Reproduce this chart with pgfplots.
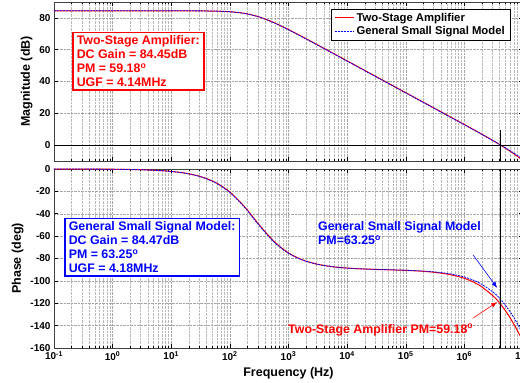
\documentclass[border=0pt]{standalone}
\usepackage{fontspec}
\setmainfont{Liberation Sans}
\usepackage{pgfplots}
\pgfplotsset{compat=1.18}
\usepackage{pgfplotstable}
\usetikzlibrary{arrows.meta}

\pgfplotstableread{
f magR magB phR phB
0.1 84.45 84.47 -0.02 -0.02
0.1778 84.45 84.47 -0.04 -0.04
0.3162 84.45 84.47 -0.07 -0.07
0.5623 84.45 84.47 -0.12 -0.12
1 84.45 84.47 -0.21 -0.22
1.778 84.45 84.47 -0.38 -0.39
3.162 84.45 84.47 -0.68 -0.69
5.623 84.45 84.47 -1.21 -1.23
10 84.44 84.46 -2.15 -2.19
17.78 84.43 84.45 -3.82 -3.90
31.62 84.39 84.41 -6.76 -6.90
56.23 84.26 84.27 -11.91 -12.15
100 83.88 83.88 -20.56 -20.94
177.8 82.85 82.82 -33.70 -34.24
316.2 80.64 80.55 -49.86 -50.44
562.3 77.09 76.96 -64.63 -65.08
1000 72.67 72.53 -75.07 -75.36
1778 67.87 67.72 -81.47 -81.64
3162 62.94 62.78 -85.18 -85.28
5623 57.96 57.81 -87.33 -87.38
10000 52.97 52.81 -88.55 -88.57
17783 47.97 47.81 -89.28 -89.28
31623 42.97 42.81 -89.77 -89.74
56234 37.97 37.81 -90.17 -90.10
100000 32.97 32.81 -90.63 -90.51
177828 27.97 27.81 -91.29 -91.09
316228 22.96 22.81 -92.41 -92.03
562341 17.95 17.80 -94.34 -93.67
1000000 12.93 12.79 -97.73 -96.55
1778279 7.84 7.74 -103.69 -101.63
3162278 2.59 2.58 -113.94 -110.47
4216965 -0.19 -0.09 -121.33 -116.97
5623413 -3.12 -2.87 -130.53 -125.25
7498942 -6.28 -5.81 -141.54 -135.48
10000000 -9.68 -8.95 -154.07 -147.61
}\bode

\pgfplotsset{
  every axis/.append style={
    scale only axis, width=469pt,
    xmin=0.1, xmax=1e7,
    xtick={0.1,1,10,100,1000,10000,100000,1000000,10000000},
    minor xtick={0.2,0.3,0.4,0.5,0.6,0.7,0.8,0.9,
      2,3,4,5,6,7,8,9,20,30,40,50,60,70,80,90,
      200,300,400,500,600,700,800,900,
      2000,3000,4000,5000,6000,7000,8000,9000,
      20000,30000,40000,50000,60000,70000,80000,90000,
      200000,300000,400000,500000,600000,700000,800000,900000,
      2000000,3000000,4000000,5000000,6000000,7000000,8000000,9000000},
    grid=both,
    major grid style={densely dotted, gray!70, line width=0.45pt},
    minor grid style={densely dotted, gray!55, line width=0.45pt},
    axis line style={black!75, line width=0.7pt},
    tick style={black, line width=0.5pt},
    major tick length=4pt, minor tick length=2pt,
    ticklabel style={font=\fontsize{10}{12}\selectfont\bfseries},
    label style={font=\fontsize{12.5}{14}\selectfont\bfseries},
    /pgf/number format/assume math mode=true,
  },
}

\begin{document}
\begin{tikzpicture}[x=1pt,y=1pt]
\begin{semilogxaxis}[at={(54pt,222pt)}, anchor=south west, height=159pt,
  ymin=-10, ymax=90, ytick={0,20,40,60,80}, xticklabels={},
  ylabel={Magnitude (dB)},
  legend style={at={(0.59,0.955)}, anchor=north west,
    font=\fontsize{11.3}{13}\selectfont\bfseries, inner xsep=3pt, inner ysep=1.5pt,
    row sep=0pt, cells={anchor=west}},
  legend image code/.code={\draw[#1] (0pt,0pt) -- (19pt,0pt);},
]
\addlegendimage{draw=red, line width=1.6pt}
\addlegendentry{Two-Stage Amplifier}
\addlegendimage{draw=blue, line width=1.4pt, dash pattern=on 2pt off 1pt}
\addlegendentry{General Small Signal Model}
\addplot[red, line width=1pt, smooth, forget plot] table[x=f,y=magR]{\bode};
\addplot[blue, line width=0.8pt, dash pattern=on 2pt off 1pt, smooth, forget plot] table[x=f,y=magB]{\bode};
\draw[black, line width=0.8pt] (axis cs:0.1,0) -- (axis cs:1e7,0);
\draw[black, line width=0.8pt] (axis cs:4.14e6,9.4) -- (axis cs:4.14e6,-10);
\end{semilogxaxis}

\begin{semilogxaxis}[at={(54pt,35pt)}, anchor=south west, height=179pt,
  ymin=-160, ymax=0, ytick={-160,-140,-120,-100,-80,-60,-40,-20,0},
  xticklabels={10\textsuperscript{-1},10\textsuperscript{0},10\textsuperscript{1},10\textsuperscript{2},10\textsuperscript{3},10\textsuperscript{4},10\textsuperscript{5},10\textsuperscript{6},10\textsuperscript{7}},
  xlabel={Frequency (Hz)}, ylabel={Phase (deg)},
]
\addplot[red, line width=1pt, smooth] table[x=f,y=phR]{\bode};
\addplot[blue, line width=0.8pt, dash pattern=on 2pt off 1pt, smooth] table[x=f,y=phB]{\bode};
\draw[black, line width=0.8pt] (axis cs:4.14e6,0) -- (axis cs:4.14e6,-160);
\draw[blue, line width=0.6pt, -{Latex[length=6pt,width=4.5pt]}] (axis cs:1.413e6,-76.9) -- (axis cs:3.63e6,-106.3);
\draw[red, line width=0.6pt, -{Latex[length=6pt,width=4.5pt]}] (axis cs:1.413e6,-133.2) -- (axis cs:3.63e6,-118.9);
\end{semilogxaxis}

\node[draw=red, line width=1.5pt, fill=white, text=red, align=left, anchor=north west,
  inner xsep=4pt, inner ysep=3pt, font=\fontsize{12.4}{14}\selectfont\bfseries]
  at (72pt,351pt) {Two-Stage Amplifier:\\DC Gain = 84.45dB\\PM = 59.18\textsuperscript{o}\\UGF = 4.14MHz};
\node[draw=blue, line width=1.5pt, fill=white, text=blue, align=left, anchor=north west,
  inner xsep=4pt, inner ysep=3pt, font=\fontsize{12.4}{14}\selectfont\bfseries]
  at (64pt,165pt) {General Small Signal Model:\\DC Gain = 84.47dB\\PM = 63.25\textsuperscript{o}\\UGF = 4.18MHz};
\node[text=blue, align=left, anchor=west, inner sep=0pt, font=\fontsize{12.4}{14}\selectfont\bfseries]
  at (318pt,150pt) {General Small Signal Model\\PM=63.25\textsuperscript{o}};
\node[text=red, anchor=west, inner sep=0pt, font=\fontsize{12.4}{14}\selectfont\bfseries]
  at (288pt,53pt) {Two-Stage Amplifier PM=59.18\textsuperscript{o}};

\pgfresetboundingbox
\path[use as bounding box] (0,0) rectangle (520pt,383pt);
\end{tikzpicture}
\end{document}
